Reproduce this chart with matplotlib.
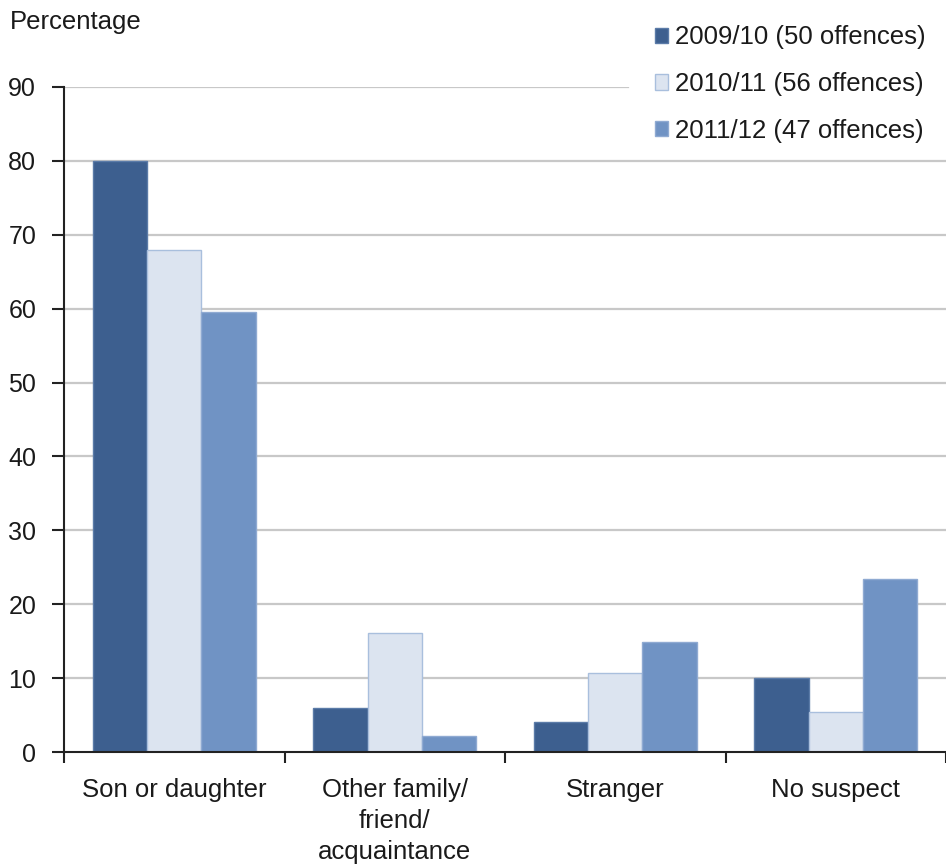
import matplotlib
matplotlib.use("Agg")
import matplotlib.pyplot as plt
import numpy as np

categories = ["Son or daughter", "Other family/\nfriend/\nacquaintance", "Stranger", "No suspect"]
series_labels = ["2009/10 (50 offences)", "2010/11 (56 offences)", "2011/12 (47 offences)"]
v2009 = [80.0, 6.0, 4.0, 10.0]
v2010 = [67.9, 16.1, 10.7, 5.4]
v2011 = [59.6, 2.1, 14.9, 23.4]
yticks = [0, 10, 20, 30, 40, 50, 60, 70, 80, 90]

colors = ["#3D5F8F", "#DCE4F0", "#7093C4"]
edges = ["#5B7BA8", "#A9BFDD", "#8FAAD2"]

plt.rcParams['font.family'] = ['Liberation Sans', 'DejaVu Sans']
W, H = 946, 864
fig = plt.figure(figsize=(W/100, H/100), dpi=100)
left, right, bottom, top = 64, 946, 752, 87
ax = fig.add_axes([left/W, 1-bottom/H, (right-left)/W, (bottom-top)/H])

x = np.arange(len(categories))
bw = 0.246
for i, vals in enumerate([v2009, v2010, v2011]):
    ax.bar(x + (i-1)*bw, vals, width=bw, color=colors[i], edgecolor=edges[i],
           linewidth=1.0, label=series_labels[i], zorder=3)

FS = 18.5
ax.set_ylim(0, 90)
ax.set_xlim(-0.5, 3.5 - 6/222)
ax.set_yticks(yticks)
ax.set_yticklabels([str(t) for t in yticks], fontsize=18, color="#1a1a1a")

# horizontal gridlines; the top one stops short where the legend sits
for t in yticks[1:]:
    xmax = (628 - left) / (right - left) if t == yticks[-1] else 1.0
    ax.axhline(t, xmin=0, xmax=xmax, color="#C8C8C8", linewidth=1.6, zorder=0)

ax.set_xticks(np.arange(len(categories)+1) - 0.5, minor=False)
ax.set_xticklabels([])
ax.set_xticks(x, minor=True)
ax.set_xticklabels(categories, minor=True, fontsize=FS, color="#1a1a1a", linespacing=1.36, va="top")
ax.tick_params(axis="x", which="minor", length=0, pad=19)
ax.tick_params(axis="x", which="major", length=8, width=1.5, color="#222222", direction="out")
ax.tick_params(axis="y", length=9, width=1.5, color="#222222", direction="out", pad=11)

for s in ["top", "right"]:
    ax.spines[s].set_visible(False)
for s in ["left", "bottom"]:
    ax.spines[s].set_color("#222222")
    ax.spines[s].set_linewidth(1.5)
    ax.spines[s].set_zorder(4)

leg = ax.legend(loc="upper right", bbox_to_anchor=(0.992, 1.112), fontsize=FS,
                frameon=False, handlelength=0.5, handleheight=0.55, handletextpad=0.3,
                labelspacing=0.88, borderpad=0.3, borderaxespad=0.2)
for t in leg.get_texts():
    t.set_color("#1a1a1a")

fig.text(10/W, 1-22/H, "Percentage", fontsize=FS, color="#1a1a1a", va="center", ha="left")

fig.savefig("out.png", dpi=100)
